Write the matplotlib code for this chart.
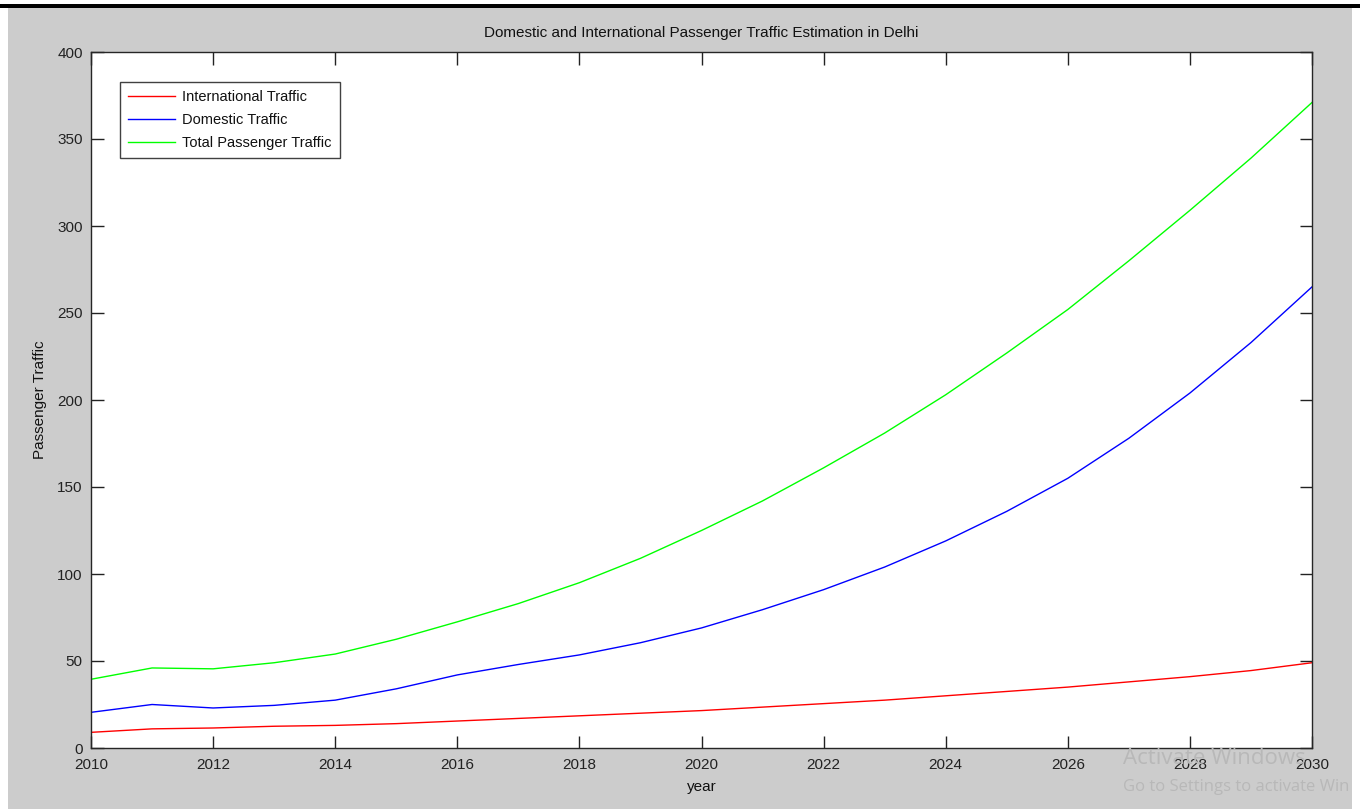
import matplotlib
matplotlib.use("Agg")
import matplotlib.pyplot as plt
from matplotlib.patches import Rectangle

plt.rcParams['font.family'] = ['Liberation Sans', 'DejaVu Sans']

years = [2010, 2011, 2012, 2013, 2014, 2015, 2016, 2017, 2018, 2019, 2020,
         2021, 2022, 2023, 2024, 2025, 2026, 2027, 2028, 2029, 2030]
international = [9, 11, 11.5, 12.5, 13, 14, 15.5, 17, 18.5, 20, 21.5,
                 23.5, 25.5, 27.5, 30, 32.5, 35, 38, 41, 44.5, 49]
domestic = [20.5, 25, 23, 24.5, 27.5, 34, 42, 48, 53.5, 60.5, 69,
            79.5, 91, 104, 119, 136, 155, 178, 204, 233, 265]
total = [39.5, 46, 45.5, 49, 54, 62.5, 72.5, 83, 95, 109, 125,
         142, 161, 181, 203, 227, 252, 280, 309, 339, 371]

series_labels = ['International Traffic', 'Domestic Traffic', 'Total Passenger Traffic']
xticks = list(range(2010, 2031, 2))
yticks = list(range(0, 401, 50))

W, H = 1360, 809
fig = plt.figure(figsize=(W / 100, H / 100), dpi=100, facecolor='white')

# grey MATLAB figure background
bg = Rectangle((8 / W, 0), (1352 - 8) / W, (809 - 7) / H,
               transform=fig.transFigure, facecolor='#cccccc',
               edgecolor='none', zorder=-10)
fig.add_artist(bg)
# black bar at top of screenshot
bar = Rectangle((0, (809 - 8) / H), 1, 4 / H,
                transform=fig.transFigure, facecolor='black',
                edgecolor='none', zorder=-10)
fig.add_artist(bar)

ax = fig.add_axes([91 / W, (809 - 748) / H, (1312 - 91) / W, (748 - 52) / H])
ax.set_zorder(1)
ax.set_facecolor('white')

ax.plot(years, international, color='#ff0000', lw=1.0, label=series_labels[0])
ax.plot(years, domestic, color='#0000ff', lw=1.0, label=series_labels[1])
ax.plot(years, total, color='#00ff00', lw=1.0, label=series_labels[2])

ax.set_xlim(2010, 2030)
ax.set_ylim(0, 400)
ax.set_xticks(xticks)
ax.set_yticks(yticks)
ax.tick_params(direction='in', length=9, width=1, top=True, right=True,
               labelsize=11, colors='#222222')
ax.tick_params(axis='x', pad=7)
ax.tick_params(axis='y', pad=6)
for s in ax.spines.values():
    s.set_color('#262626')
    s.set_linewidth(1.0)

ax.set_title('Domestic and International Passenger Traffic Estimation in Delhi',
             fontsize=11, color='#111111', pad=11)
ax.set_xlabel('year', fontsize=11, color='#111111', labelpad=6)
ax.set_ylabel('Passenger Traffic', fontsize=11, color='#111111', labelpad=7)

leg = ax.legend(loc='upper left', bbox_to_anchor=(29 / 1221, 1 - 30 / 696),
                fontsize=10.5, frameon=True, fancybox=False, handlelength=3.2,
                borderpad=0.55, labelspacing=0.62, handletextpad=0.5,
                borderaxespad=0)
leg.get_frame().set_edgecolor('#111111')
leg.get_frame().set_linewidth(1.0)
for t in leg.get_texts():
    t.set_color('#111111')

# Windows activation watermark from the screenshot
fig.text(1123 / W, 1 - 758 / H, 'Activate Windows', fontsize=16,
         color='#b8b8b8', family=['Open Sans', 'DejaVu Sans'], va='center', zorder=5)
fig.text(1123 / W, 1 - 787 / H, 'Go to Settings to activate Win', fontsize=12,
         color='#b8b8b8', family=['Open Sans', 'DejaVu Sans'], va='center', zorder=5)

fig.savefig('out.png', dpi=100, facecolor='white')
